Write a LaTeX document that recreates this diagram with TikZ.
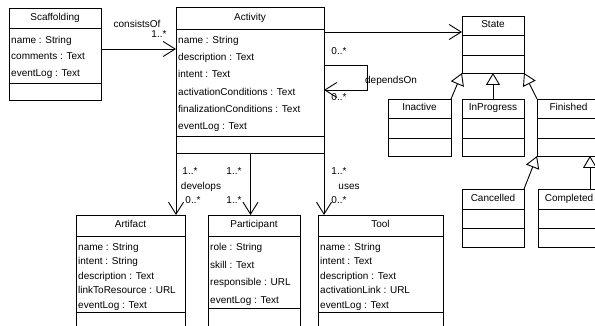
\documentclass[tikz,border=0pt]{standalone}
\usepackage{fontspec}
\setmainfont{Liberation Sans}
\usetikzlibrary{arrows.meta,calc}
\tikzset{
  clsbox/.style={draw, line width=0.9pt, fill=white, inner sep=0pt, outer sep=0pt},
  shadowc/.style={fill=black!45},
  sepl/.style={line width=0.8pt},
  attr/.style={anchor=west, inner sep=0pt, text height=7pt, text depth=2pt},
  ttl/.style={inner sep=0pt, text height=7pt, text depth=2pt},
  lbl/.style={inner sep=0pt, text height=7pt, text depth=2pt},
  assoc/.style={line width=0.9pt, -{Straight Barb[length=12pt,width=15pt]}},
  gen/.style={line width=0.9pt, -{Triangle[open,length=12pt,width=14pt,fill=white]}}
}
\newcommand{\umlcls}[8]{%
  \fill[shadowc] (#2+1.3,#3+1.3) rectangle (#4+1.3,#5+1.3);
  \node[clsbox, minimum width={(#4-#2)*1pt}, minimum height={(#5-#3)*1pt}] (#1) at ({(#2+#4)/2},{(#3+#5)/2}) {};
  \draw[sepl] (#1.west |- 0,#6) -- (#1.east |- 0,#6);
  \draw[sepl] (#1.west |- 0,#7) -- (#1.east |- 0,#7);
  \node[ttl] (#1-t) at ({(#2+#4)/2},{(#3+#6)/2}) {#8};
}
\begin{document}
\begin{tikzpicture}[x=1pt,y=-1pt,font=\fontsize{10}{12}\selectfont]
\useasboundingbox (0,0) rectangle (595,326);
\clip (0,0) rectangle (595,326);
\fill[white] (0,0) rectangle (595,326);

% classes
\umlcls{scaf}{9}{8}{101}{100}{28}{83}{Scaffolding}
\foreach \t [count=\i] in {name : String, comments : Text, eventLog : Text}
  \node[attr] (scaf-a\i) at (11,{41+(\i-1)*16.5}) {\t};

\umlcls{act}{176}{7}{324}{153}{29}{136}{Activity}
\foreach \t [count=\i] in {name : String, description : Text, intent : Text, activationConditions : Text, finalizationConditions : Text, eventLog : Text}
  \node[attr] (act-a\i) at (178,{41+(\i-1)*17.2}) {\t};

\umlcls{state}{462}{16}{524}{73}{35}{55}{State}
\umlcls{inact}{388}{99}{451}{156}{118}{138}{Inactive}
\umlcls{inprog}{462}{99}{524}{156}{118}{138}{InProgress}
\umlcls{fin}{537}{99}{600}{156}{118}{138}{Finished}
\umlcls{canc}{462}{189}{524}{247}{209}{228}{Cancelled}
\umlcls{comp}{538}{189}{600}{247}{209}{228}{Completed}

\umlcls{art}{76}{215}{185}{335}{236}{312}{Artifact}
\foreach \t [count=\i] in {name : String, intent : String, description : Text, linkToResource : URL, eventLog : Text}
  \node[attr] (art-a\i) at (78,{248+(\i-1)*14.5}) {\t};

\umlcls{part}{208}{215}{300}{335}{236}{308}{Participant}
\foreach \t [count=\i] in {role : String, skill : Text, responsible : URL, eventLog : Text}
  \node[attr] (part-a\i) at (210,{248+(\i-1)*17.6}) {\t};

\umlcls{tool}{318}{215}{443}{335}{236}{312}{Tool}
\foreach \t [count=\i] in {name : String, intent : Text, description : Text, activationLink : URL, eventLog : Text}
  \node[attr] (tool-a\i) at (320,{248+(\i-1)*14.5}) {\t};

% associations
\draw[assoc] (scaf.east |- 0,49) -- (act.west |- 0,49);
\node[lbl] (l-cons) at (137,25) {consistsOf};
\node[lbl] (l-cons-m) at (159,35) {1..*};

\draw[assoc] (act.east |- 0,32) -- (state.west |- 0,32);

\draw[assoc] (act.east |- 0,65) -- (367,65) |- (act.east |- 0,90);
\node[lbl] (l-dep1) at (339,52) {0..*};
\node[lbl] (l-dep2) at (339,98) {0..*};
\node[lbl] (l-dep) at (391,81) {dependsOn};

\draw[assoc] (act.south west) -- (act.south west |- art.north);
\node[lbl] (l-dev1) at (190,172) {1..*};
\node[lbl] (l-dev) at (201,187) {develops};
\node[lbl] (l-dev2) at (193,201) {0..*};

\draw[assoc] (act.south -| 250.5,0) -- (part.north -| 250.5,0);
\node[lbl] (l-par1) at (234,172) {1..*};
\node[lbl] (l-par2) at (234,201) {1..*};

\draw[assoc] (act.south east) -- (act.south east |- tool.north);
\node[lbl] (l-use1) at (339,172) {1..*};
\node[lbl] (l-use) at (349,187) {uses};
\node[lbl] (l-use2) at (339,201) {0..*};

% generalizations
\draw[gen] (inact.north east) -- (state.south west);
\draw[gen] (inprog.north) -- (state.south);
\draw[gen] (fin.north west) -- (state.south east);
\draw[gen] (canc.north east) -- (fin.south west);
\draw[gen] (comp.north -| 590,0) -- (fin.south -| 590,0);
\end{tikzpicture}
\end{document}
